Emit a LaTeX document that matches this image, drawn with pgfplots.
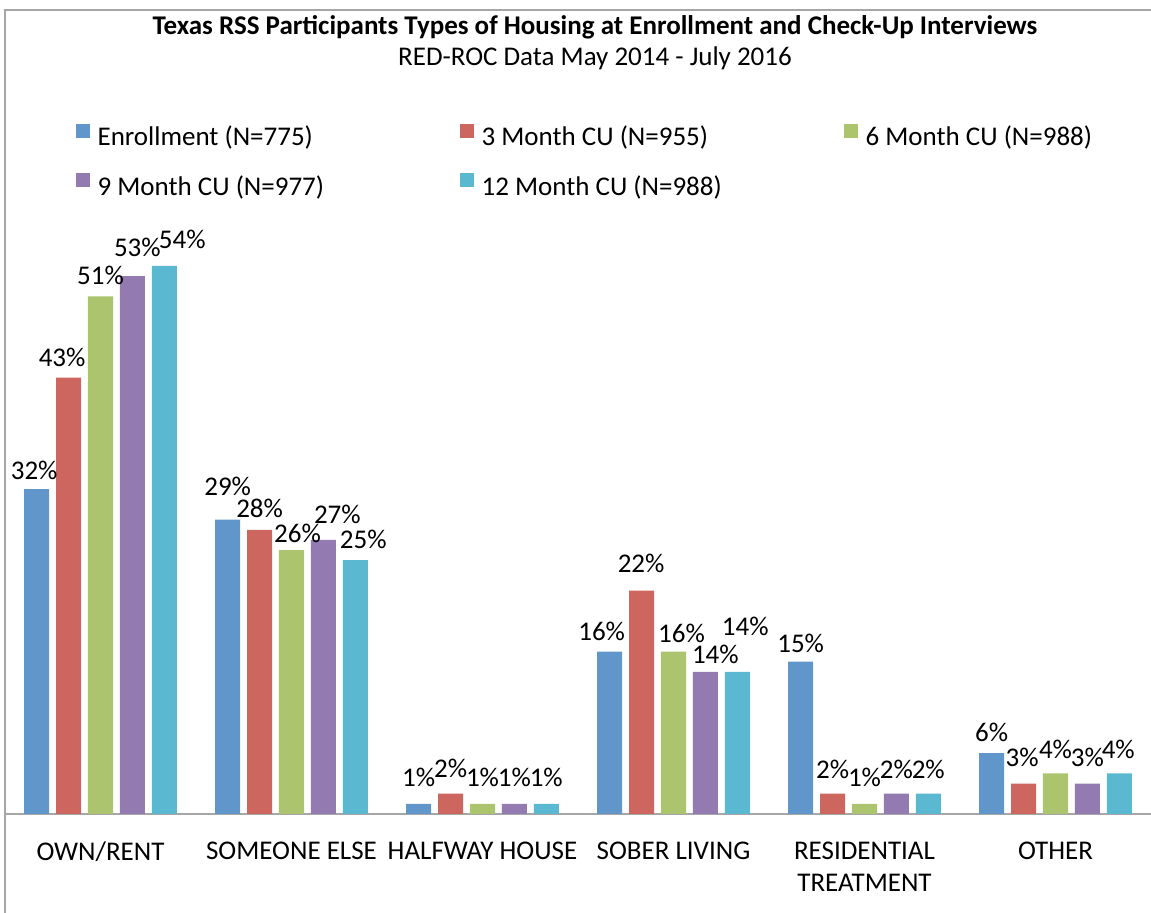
\documentclass[border=0pt]{standalone}
\usepackage{fontspec}
\setmainfont{Carlito}
\usepackage{pgfplots}
\pgfplotsset{compat=1.18}
\definecolor{cE}{HTML}{6096C9}
\definecolor{cT}{HTML}{CD665E}
\definecolor{cS}{HTML}{ABC46D}
\definecolor{cN}{HTML}{937AB0}
\definecolor{cW}{HTML}{5BB8D1}
\definecolor{axgray}{HTML}{A6A6A6}
\begin{document}
\begin{tikzpicture}[font=\fontsize{13.5}{16}\selectfont]
\begin{axis}[name=ax, scale only axis, width=573pt, height=304.5pt,
  xmin=-0.5, xmax=5.5, ymin=0, ymax=60,
  axis x line=bottom, axis y line=none,
  axis line style={draw=axgray, line width=1.2pt, -},
  xtick={0,...,5},
  xticklabels={OWN/RENT, SOMEONE ELSE, HALFWAY HOUSE, SOBER LIVING, {RESIDENTIAL\\TREATMENT}, OTHER},
  major tick length=0pt,
  xticklabel style={align=center, anchor=north, inner sep=0pt, yshift=-13.8pt},
  ybar, bar width=0.131,
  nodes near coords={\pgfmathprintnumber{\pgfplotspointmeta}\%},
  nodes near coords style={anchor=base, inner sep=0pt, xshift=\dx pt, yshift={6pt+\dy pt}, text=black},
  visualization depends on={value \thisrow{dx} \as \dx},
  visualization depends on={value \thisrow{dy} \as \dy},
  /pgf/number format/assume math mode=true,
  legend style={at={(0.0616,1.133)}, anchor=north west, draw=none, fill=none,
    inner sep=0pt, outer sep=0pt, /tikz/row sep=10.5pt,
    nodes={inner sep=0pt, text height=10pt, text depth=3pt},
    /tikz/every odd column/.append style={column sep=4pt}},
  legend columns=3,
  legend cell align=left,
  legend image code/.code={\fill[#1,draw=none] (-0.5pt,0.5pt) rectangle (6.5pt,7.5pt);},
  clip=false,
]
\addplot[fill=cE, draw=none, bar shift=-0.334] table[x=x, y=y] {
x y dx dy
0 32 -1.25 -1
1 29 0 6
2 1 0 2.5
3 16 -4 -0.5
4 15 0 -1.5
5 6 0 0
};
\addlegendentry{\makebox[181pt][l]{Enrollment (N=775)}}
\addplot[fill=cT, draw=none, bar shift=-0.167] table[x=x, y=y] {
x y dx dy
0 43 -3.25 -0.5
1 28 0 0
2 2 0 2
3 22 -0.25 3
4 2 0 1.5
5 3 -0.75 2.5
};
\addlegendentry{\makebox[181pt][l]{3 Month CU (N=955)}}
\addplot[fill=cS, draw=none, bar shift=0] table[x=x, y=y] {
x y dx dy
0 51 0 0
1 26 3 -2
2 1 0 2.5
3 16 4 -1.5
4 1 0 2.5
5 4 0 1.5
};
\addlegendentry{\makebox[181pt][l]{6 Month CU (N=988)}}
\addplot[fill=cN, draw=none, bar shift=0.167] table[x=x, y=y] {
x y dx dy
0 53 2.5 4
1 27 7 2
2 1 0 2.5
3 14 5 -2
4 2 0 1.5
5 3 0 2.5
};
\addlegendentry{\makebox[181pt][l]{9 Month CU (N=977)}}
\addplot[fill=cW, draw=none, bar shift=0.334] table[x=x, y=y] {
x y dx dy
0 54 9 2.5
1 25 4 0
2 1 0 2.5
3 14 4 12
4 2 0 1.5
5 4 -0.5 1.5
};
\addlegendentry{\makebox[181pt][l]{12 Month CU (N=988)}}
\end{axis}
\node[anchor=base, font=\bfseries\fontsize{13.5}{16}\selectfont] at ([shift={(295pt,389.5pt)}]ax.south west) {Texas RSS Participants Types of Housing at Enrollment and Check-Up Interviews};
\node[anchor=base] at ([shift={(295pt,374pt)}]ax.south west) {RED-ROC Data May 2014 - July 2016};
\draw[axgray, line width=1pt] ([shift={(0pt,-60pt)}]ax.south west) -- ([shift={(0pt,402pt)}]ax.south west) -- ([shift={(600pt,402pt)}]ax.south west);
\pgfresetboundingbox
\path[use as bounding box] ([shift={(-2.5pt,-49.5pt)}]ax.south west) rectangle ([shift={(573pt,407pt)}]ax.south west);
\end{tikzpicture}
\end{document}
